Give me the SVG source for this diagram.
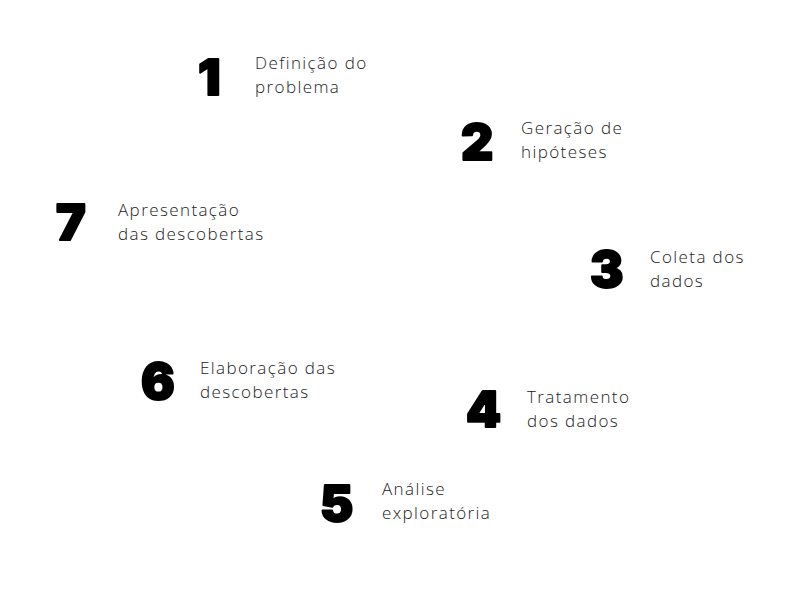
<svg xmlns="http://www.w3.org/2000/svg" width="794" height="600" viewBox="0 0 794 600">
<style>
.num{font-family:Inter,"DejaVu Sans",sans-serif;font-weight:900;font-size:50px;fill:#000;stroke:#000;stroke-width:2;stroke-linejoin:round}
.lbl{font-family:"Open Sans","Noto Sans",sans-serif;font-weight:300;font-size:17px;fill:#222;letter-spacing:1.4px}
</style>
<rect width="794" height="600" fill="#fff"/>
<g id="step1"><text class="num" x="198" y="95">1</text><text class="lbl" x="255" y="69">Definição do</text><text class="lbl" x="255" y="93">problema</text></g>
<g id="step2"><text class="num" x="461" y="160">2</text><text class="lbl" x="521" y="134">Geração de</text><text class="lbl" x="521" y="158">hipóteses</text></g>
<g id="step3"><text class="num" x="590" y="287">3</text><text class="lbl" x="650" y="263">Coleta dos</text><text class="lbl" x="650" y="287">dados</text></g>
<g id="step4"><text class="num" x="466" y="427">4</text><text class="lbl" x="527" y="403">Tratamento</text><text class="lbl" x="527" y="427">dos dados</text></g>
<g id="step5"><text class="num" x="320" y="521">5</text><text class="lbl" x="382" y="495">Análise</text><text class="lbl" x="382" y="519">exploratória</text></g>
<g id="step6"><text class="num" x="141" y="399">6</text><text class="lbl" x="200" y="374">Elaboração das</text><text class="lbl" x="200" y="398">descobertas</text></g>
<g id="step7"><text class="num" x="56" y="240">7</text><text class="lbl" x="118" y="216">Apresentação</text><text class="lbl" x="118" y="240">das descobertas</text></g>
<g id="connectors"></g>
</svg>
